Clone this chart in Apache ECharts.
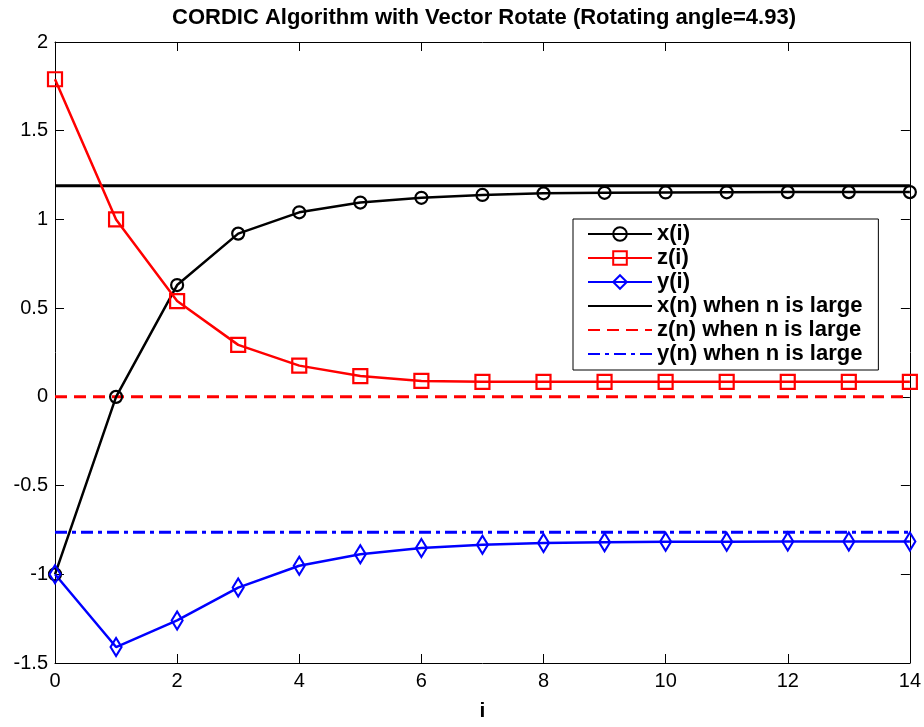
<!DOCTYPE html>
<html>
<head>
<meta charset="utf-8">
<script src="https://cdn.jsdelivr.net/npm/echarts@6/dist/echarts.min.js"></script>
<style>
  html, body { margin: 0; padding: 0; background: #fff; }
  #chart { width: 924px; height: 727px; }
</style>
</head>
<body>
<div id="chart"></div>
<script>
// Iteration index
const iters = [0, 1, 2, 3, 4, 5, 6, 7, 8, 9, 10, 11, 12, 13, 14];
// CORDIC iterates
const xVals = [-1, 0, 0.63, 0.92, 1.04, 1.095, 1.122, 1.138, 1.147, 1.15, 1.152, 1.153, 1.154, 1.154, 1.154];
const zVals = [1.79, 1.0, 0.54, 0.293, 0.176, 0.117, 0.09, 0.085, 0.085, 0.085, 0.085, 0.085, 0.085, 0.085, 0.085];
const yVals = [-1, -1.41, -1.26, -1.075, -0.952, -0.887, -0.852, -0.833, -0.824, -0.819, -0.817, -0.816, -0.815, -0.815, -0.815];
// Limits for large n
const xLarge = [1.19, 1.19];
const zLarge = [0, 0];
const yLarge = [-0.763, -0.763];
const limitSpan = [0, 14];
// Axis ticks
const xTicks = [0, 2, 4, 6, 8, 10, 12, 14];
const yTicks = [-1.5, -1, -0.5, 0, 0.5, 1, 1.5, 2];

const FONT = "'Liberation Sans', Arial, Helvetica, sans-serif";
const pairs = (xs, ys) => xs.map((x, k) => [x, ys[k]]);

const chart = echarts.init(document.getElementById('chart'), null, { renderer: 'canvas' });

const axisCommon = {
  type: 'value',
  axisLine: { show: true, onZero: false, lineStyle: { color: '#000', width: 1 } },
  axisTick: { show: true, inside: true, length: 9, lineStyle: { color: '#000', width: 1 } },
  splitLine: { show: false }
};

const xMin = xTicks[0], xMax = xTicks[xTicks.length - 1], xStep = xTicks[1] - xTicks[0];
const yMin = yTicks[0], yMax = yTicks[yTicks.length - 1], yStep = yTicks[1] - yTicks[0];

function markerSeries(name, data, color, symbol, size) {
  return {
    name, type: 'line', data,
    symbol, symbolSize: size,
    lineStyle: { color, width: 2.5 },
    itemStyle: { color: 'rgba(255,255,255,0)', borderColor: color, borderWidth: 2.2 },
    emphasis: { disabled: true },
    animation: false, z: 3
  };
}
function limitSeries(name, data, color, type, width) {
  return {
    name, type: 'line', data,
    symbol: 'none',
    lineStyle: { color, width, type },
    itemStyle: { color },
    emphasis: { disabled: true },
    animation: false, z: 2
  };
}

// legend entries for the limit lines show the line only
const lineOnlyIcon = { opacity: 0 };

chart.setOption({
  backgroundColor: '#fff',
  animation: false,
  grid: { left: 55, right: 11, top: 42, bottom: 57, containLabel: false },
  graphic: [{
    type: 'text', x: 484, y: 7,
    style: {
      text: 'CORDIC Algorithm with Vector Rotate (Rotating angle=4.93)',
      font: 'bold 22px ' + FONT, fill: '#000', textAlign: 'center', textVerticalAlign: 'top'
    }
  }],
  xAxis: [
    Object.assign({}, axisCommon, {
      position: 'bottom', min: xMin, max: xMax, interval: xStep,
      name: 'i', nameLocation: 'middle', nameGap: 38,
      nameTextStyle: { fontFamily: FONT, fontSize: 21, fontWeight: 'bold', color: '#000' },
      axisLabel: { fontFamily: FONT, fontSize: 20, color: '#000', margin: 8 }
    }),
    Object.assign({}, axisCommon, {
      position: 'top', min: xMin, max: xMax, interval: xStep,
      axisLabel: { show: false }
    })
  ],
  yAxis: [
    Object.assign({}, axisCommon, {
      position: 'left', min: yMin, max: yMax, interval: yStep,
      axisLabel: { fontFamily: FONT, fontSize: 20, color: '#000', margin: 7 }
    }),
    Object.assign({}, axisCommon, {
      position: 'right', min: yMin, max: yMax, interval: yStep,
      axisLabel: { show: false }
    })
  ],
  legend: {
    orient: 'vertical', left: 573, top: 219,
    padding: [4, 16, 5, 14],
    itemWidth: 64, itemHeight: 17, itemGap: 2,
    backgroundColor: '#fff', borderColor: '#000', borderWidth: 1, borderRadius: 0,
    textStyle: { fontFamily: FONT, fontSize: 22, fontWeight: 'bold', color: '#000', lineHeight: 22 },
    selectedMode: false,
    data: [
      'x(i)', 'z(i)', 'y(i)',
      { name: 'x(n) when n is large', itemStyle: lineOnlyIcon },
      { name: 'z(n) when n is large', itemStyle: lineOnlyIcon },
      { name: 'y(n) when n is large', itemStyle: lineOnlyIcon }
    ]
  },
  series: [
    markerSeries('x(i)', pairs(iters, xVals), '#000000', 'circle', 12),
    markerSeries('z(i)', pairs(iters, zVals), '#ff0000', 'rect', 14),
    markerSeries('y(i)', pairs(iters, yVals), '#0000ff', 'diamond', [11, 18]),
    limitSeries('x(n) when n is large', pairs(limitSpan, xLarge), '#000000', 'solid', 3),
    limitSeries('z(n) when n is large', pairs(limitSpan, zLarge), '#ff0000', [12, 7], 3),
    limitSeries('y(n) when n is large', pairs(limitSpan, yLarge), '#0000ff', [12, 5, 4, 5], 3)
  ]
});
</script>
</body>
</html>
